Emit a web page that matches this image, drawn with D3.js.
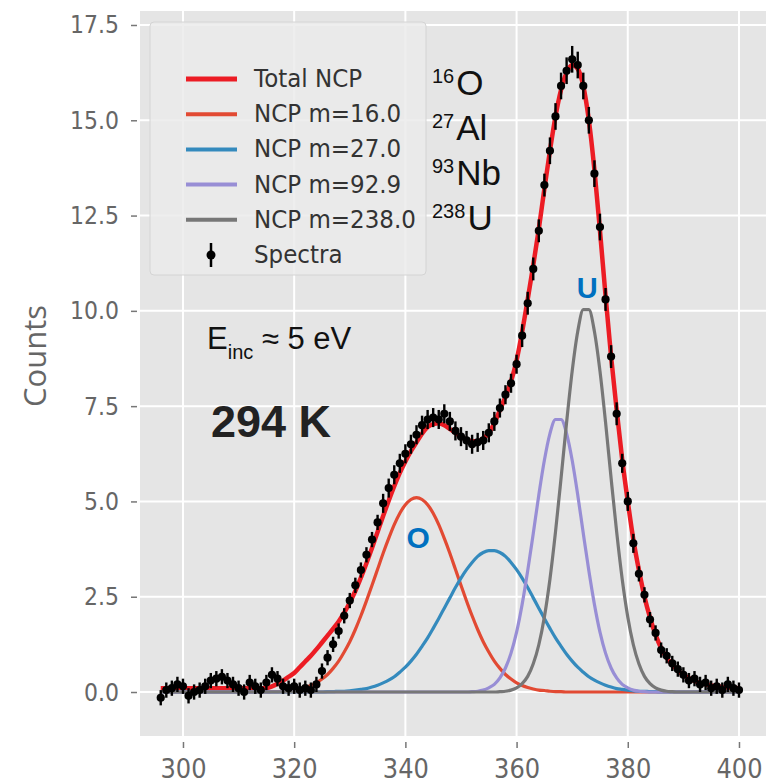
<!DOCTYPE html>
<html><head><meta charset="utf-8">
<script src="https://cdn.jsdelivr.net/npm/d3@7"></script>
<style>html,body{margin:0;padding:0;background:#fff;} svg{display:block}</style>
</head><body><svg id="c" width="766" height="783"></svg>
<script>
// ---------- data ----------
const energy = [
 296,297,298,299,300,301,302,303,304,305,
 306,307,308,309,310,311,312,313,314,315,
 316,317,318,319,320,321,322,323,324,325,
 326,327,328,329,330,331,332,333,334,335,
 336,337,338,339,340,341,342,343,344,345,
 346,347,348,349,350,351,352,353,354,355,
 356,357,358,359,360,361,362,363,364,365,
 366,367,368,369,370,371,372,373,374,375,
 376,377,378,379,380,381,382,383,384,385,
 386,387,388,389,390,391,392,393,394,395,
 396,397,398,399,400];
const spectra = [
 -0.15,0.05,0.1,0.2,0.15,-0.1,0.0,0.05,0.15,0.3,
 0.35,0.4,0.3,0.2,0.1,0.0,0.25,0.15,0.05,0.25,
 0.45,0.35,0.15,0.1,0.15,0.05,0.1,0.05,0.2,0.55,
 0.9,1.25,1.6,2.0,2.4,2.8,3.2,3.6,4.0,4.45,
 4.95,5.35,5.7,6.0,6.25,6.5,6.75,7.0,7.15,7.2,
 7.15,7.3,7.1,6.85,6.7,6.6,6.5,6.55,6.6,6.8,
 7.1,7.45,7.8,8.1,8.6,9.35,10.2,11.1,12.1,13.3,
 14.2,15.1,15.9,16.3,16.6,16.45,15.9,15.0,13.6,12.2,
 10.3,8.8,7.3,6.0,5.0,3.9,3.1,2.55,1.9,1.55,
 1.1,0.95,0.75,0.6,0.45,0.3,0.35,0.2,0.25,0.1,
 0.15,0.05,0.2,0.1,0.05];
const spectraErr = [
 0.2,0.2,0.2,0.2,0.2,0.2,0.2,0.2,0.2,0.2,
 0.2,0.2,0.2,0.2,0.2,0.2,0.2,0.2,0.2,0.2,
 0.2,0.2,0.2,0.2,0.2,0.2,0.2,0.2,0.2,0.2,
 0.2,0.2,0.2,0.2,0.2,0.2,0.2,0.2,0.2,0.2,
 0.25,0.25,0.25,0.25,0.25,0.25,0.25,0.25,0.25,0.25,
 0.25,0.25,0.25,0.25,0.25,0.25,0.25,0.25,0.25,0.25,
 0.25,0.25,0.25,0.25,0.25,0.3,0.3,0.3,0.3,0.3,
 0.35,0.35,0.35,0.35,0.35,0.35,0.35,0.35,0.35,0.35,
 0.3,0.3,0.3,0.25,0.25,0.25,0.2,0.2,0.2,0.2,
 0.2,0.2,0.2,0.2,0.2,0.2,0.2,0.2,0.2,0.2,
 0.2,0.2,0.2,0.2,0.2];
const totalNCP = [
 0.1,0.1,0.1,0.1,0.1,0.1,0.1,0.1,0.1,0.1,
 0.1,0.1,0.1,0.1,0.1,0.1,0.1,0.1,0.1,0.1,
 0.15,0.22,0.3,0.4,0.5,0.65,0.8,0.95,1.12,1.3,
 1.48,1.66,1.85,2.08,2.35,2.65,3.0,3.38,3.78,4.2,
 4.62,5.02,5.4,5.75,6.05,6.32,6.55,6.78,6.95,7.03,
 7.05,7.0,6.9,6.8,6.7,6.62,6.58,6.58,6.65,6.8,
 7.05,7.4,7.75,8.15,8.7,9.45,10.3,11.2,12.15,13.2,
 14.2,15.1,15.8,16.25,16.45,16.35,15.9,15.0,13.7,12.1,
 10.4,8.8,7.4,6.1,5.0,4.0,3.2,2.5,1.95,1.5,
 1.15,0.9,0.72,0.57,0.45,0.36,0.29,0.24,0.2,0.17,
 0.15,0.13,0.12,0.11,0.1];
const ncpO = [
 0,0,0,0,0,0,0,0,0,0,
 0,0,0,0,0,0,0,0,0,0,
 0.01,0.01,0.02,0.04,0.05,0.08,0.12,0.17,0.24,0.34,
 0.46,0.62,0.81,1.05,1.32,1.64,2.0,2.39,2.8,3.22,
 3.64,4.03,4.39,4.69,4.91,5.05,5.1,5.05,4.91,4.69,
 4.39,4.03,3.64,3.22,2.8,2.39,2.0,1.64,1.32,1.05,
 0.81,0.62,0.46,0.34,0.24,0.17,0.12,0.08,0.05,0.04,
 0.02,0.01,0.01,0,0,0,0,0,0,0,
 0,0,0,0,0,0,0,0,0,0,
 0,0,0,0,0,0,0,0,0,0,
 0,0,0,0,0];
const ncpAl = [
 0,0,0,0,0,0,0,0,0,0,
 0,0,0,0,0,0,0,0,0,0,
 0,0,0,0,0,0,0,0,0,0,
 0.01,0.01,0.02,0.02,0.03,0.05,0.07,0.09,0.13,0.18,
 0.24,0.31,0.4,0.52,0.65,0.81,0.99,1.2,1.42,1.67,
 1.93,2.2,2.47,2.74,2.99,3.21,3.4,3.56,3.66,3.71,
 3.71,3.66,3.56,3.4,3.21,2.99,2.74,2.47,2.2,1.93,
 1.67,1.42,1.2,0.99,0.81,0.65,0.52,0.4,0.31,0.24,
 0.18,0.13,0.09,0.07,0.05,0.03,0.02,0.02,0.01,0.01,
 0,0,0,0,0,0,0,0,0,0,
 0,0,0,0,0];
const ncpNb = [
 0,0,0,0,0,0,0,0,0,0,
 0,0,0,0,0,0,0,0,0,0,
 0,0,0,0,0,0,0,0,0,0,
 0,0,0,0,0,0,0,0,0,0,
 0,0,0,0,0,0,0,0,0,0,
 0,0,0,0,0,0,0.01,0.02,0.05,0.11,
 0.2,0.37,0.63,1.02,1.57,2.3,3.18,4.16,5.17,6.08,
 6.78,7.15,7.15,6.78,6.08,5.17,4.16,3.18,2.3,1.57,
 1.02,0.63,0.37,0.2,0.11,0.05,0.02,0.01,0,0,
 0,0,0,0,0,0,0,0,0,0,
 0,0,0,0,0];
const ncpU = [
 0,0,0,0,0,0,0,0,0,0,
 0,0,0,0,0,0,0,0,0,0,
 0,0,0,0,0,0,0,0,0,0,
 0,0,0,0,0,0,0,0,0,0,
 0,0,0,0,0,0,0,0,0,0,
 0,0,0,0,0,0,0,0,0,0,
 0,0.01,0.02,0.05,0.11,0.22,0.41,0.74,1.24,1.97,
 2.96,4.2,5.61,7.08,8.42,9.46,10.03,10.03,9.46,8.42,
 7.08,5.61,4.2,2.96,1.97,1.24,0.74,0.41,0.22,0.11,
 0.05,0.02,0.01,0,0,0,0,0,0,0,
 0,0,0,0,0];
const xTicks = [300, 320, 340, 360, 380, 400];
const yTicks = [0, 2.5, 5, 7.5, 10, 12.5, 15, 17.5];
const legendLabels = ["Total NCP", "NCP m=16.0", "NCP m=27.0", "NCP m=92.9", "NCP m=238.0", "Spectra"];
const isotopeMass = ["16", "27", "93", "238"];
const isotopeSymbol = ["O", "Al", "Nb", "U"];

// ---------- styles ----------
const colTotal = "#ec1c24";
const compColors = ["#E24A33", "#348ABD", "#988ED5", "#777777"];
const components = [ncpO, ncpAl, ncpNb, ncpU];

const svg = d3.select("#c");
const W = 766, H = 783;
const plot = {left: 140, right: 766, top: 11, bottom: 736};

const x = d3.scaleLinear().domain([292.27, 404.86]).range([plot.left, plot.right]);
const y = d3.scaleLinear().domain([-1.154, 17.867]).range([plot.bottom, plot.top]);

svg.append("rect").attr("width", W).attr("height", H).attr("fill", "#fff");
svg.append("rect").attr("x", plot.left).attr("y", plot.top)
  .attr("width", plot.right - plot.left).attr("height", plot.bottom - plot.top)
  .attr("fill", "#E5E5E5");

svg.append("clipPath").attr("id", "clip").append("rect")
  .attr("x", plot.left).attr("y", plot.top)
  .attr("width", plot.right - plot.left).attr("height", plot.bottom - plot.top);

// grid
const grid = svg.append("g");
grid.selectAll("line.gx").data(xTicks).join("line")
  .attr("x1", d => x(d)).attr("x2", d => x(d))
  .attr("y1", plot.top).attr("y2", plot.bottom)
  .attr("stroke", "#fff").attr("stroke-width", 2);
grid.selectAll("line.gy").data(yTicks).join("line")
  .attr("y1", d => y(d)).attr("y2", d => y(d))
  .attr("x1", plot.left).attr("x2", plot.right)
  .attr("stroke", "#fff").attr("stroke-width", 2);

// axes
const yAxis = svg.append("g").attr("transform", `translate(${plot.left - 3},0)`)
  .call(d3.axisLeft(y).tickValues(yTicks).tickFormat(d3.format(".1f")).tickSize(6).tickPadding(12));
const xAxis = svg.append("g").attr("transform", `translate(0,${plot.bottom + 6})`)
  .call(d3.axisBottom(x).tickValues(xTicks).tickFormat(d3.format("d")).tickSize(6).tickPadding(8));
[yAxis, xAxis].forEach(g => {
  g.select(".domain").remove();
  g.selectAll(".tick line").attr("stroke", "#777").attr("stroke-width", 1.5);
  g.selectAll(".tick text").attr("fill", "#666")
    .style("font-family", "'DejaVu Sans', sans-serif").style("font-size", "22px");
});
yAxis.selectAll(".tick text").attr("dy", null).attr("x", null)
  .attr("transform", "translate(-18,8) scale(1,1.15)");
xAxis.selectAll(".tick text").attr("dy", null).attr("y", null)
  .attr("transform", "translate(0,36) scale(1.05,1.18)").style("font-size", "23px");

// y label
svg.append("text").attr("transform", "translate(46,356) rotate(-90)")
  .attr("text-anchor", "middle").attr("fill", "#666")
  .style("font-family", "'Open Sans', sans-serif").style("font-size", "31px")
  .text("Counts");

// curves
const plotG = svg.append("g").attr("clip-path", "url(#clip)");
const line = d3.line().x((d, i) => x(energy[i])).y(d => y(d)).curve(d3.curveMonotoneX);
plotG.append("path").datum(totalNCP).attr("d", line)
  .attr("fill", "none").attr("stroke", colTotal).attr("stroke-width", 4.5);
components.forEach((arr, k) => {
  plotG.append("path").datum(arr).attr("d", line)
    .attr("fill", "none").attr("stroke", compColors[k]).attr("stroke-width", 3.2);
});

// spectra
const pts = energy.map((e, i) => ({e, v: spectra[i], err: spectraErr[i]}));
plotG.selectAll("line.err").data(pts).join("line")
  .attr("x1", d => x(d.e)).attr("x2", d => x(d.e))
  .attr("y1", d => y(d.v - d.err)).attr("y2", d => y(d.v + d.err))
  .attr("stroke", "#000").attr("stroke-width", 2.4);
plotG.selectAll("circle.pt").data(pts).join("circle")
  .attr("cx", d => x(d.e)).attr("cy", d => y(d.v)).attr("r", 4.1).attr("fill", "#000");

// legend
const leg = svg.append("g");
leg.append("rect").attr("x", 150).attr("y", 22).attr("width", 276).attr("height", 253)
  .attr("rx", 4).attr("fill", "#ebebeb").attr("fill-opacity", 0.85)
  .attr("stroke", "#d4d4d4").attr("stroke-width", 1);
const legColors = [colTotal].concat(compColors);
legendLabels.forEach((lab, i) => {
  const cy = 79 + i * 35.2;
  if (i < 5) {
    leg.append("line").attr("x1", 186).attr("x2", 237).attr("y1", cy).attr("y2", cy)
      .attr("stroke", legColors[i]).attr("stroke-width", i === 0 ? 5 : 4);
  } else {
    leg.append("line").attr("x1", 211).attr("x2", 211).attr("y1", cy - 12).attr("y2", cy + 12)
      .attr("stroke", "#000").attr("stroke-width", 2.5);
    leg.append("circle").attr("cx", 211).attr("cy", cy).attr("r", 4.5).attr("fill", "#000");
  }
  leg.append("text").attr("transform", `translate(254,${cy + 8}) scale(1,1.1)`)
    .attr("fill", "#333").style("font-family", "'DejaVu Sans', sans-serif").style("font-size", "23px")
    .text(lab);
});

// isotope labels
const iso = svg.append("g").style("font-family", "'Liberation Sans', Arial, sans-serif").attr("fill", "#111");
isotopeMass.forEach((m, i) => {
  const base = 95 + i * 45;
  const t = iso.append("text").attr("x", 432).attr("y", base);
  t.append("tspan").style("font-size", "20px").attr("dy", -12).text(m);
  t.append("tspan").style("font-size", "35px").attr("dy", 12).attr("dx", 2).text(isotopeSymbol[i]);
});

// annotations
const ann = svg.append("g").style("font-family", "'Liberation Sans', Arial, sans-serif");
const e = ann.append("text").attr("x", 207).attr("y", 349).attr("fill", "#111").style("font-size", "31px");
e.append("tspan").text("E");
e.append("tspan").attr("dy", 10).style("font-size", "20px").text("inc");
e.append("tspan").attr("dy", -10).text(" \u2248 5 eV");
ann.append("text").attr("x", 211).attr("y", 437).attr("fill", "#222")
  .style("font-size", "45px").style("font-weight", "bold").text("294 K");
ann.append("text").attr("x", x(342.3)).attr("y", 548).attr("text-anchor", "middle")
  .attr("fill", "#0070C0").style("font-size", "30px").style("font-weight", "bold").text("O");
ann.append("text").attr("x", x(372.7)).attr("y", 298).attr("text-anchor", "middle")
  .attr("fill", "#0070C0").style("font-size", "29px").style("font-weight", "bold").text("U");
</script></body></html>
